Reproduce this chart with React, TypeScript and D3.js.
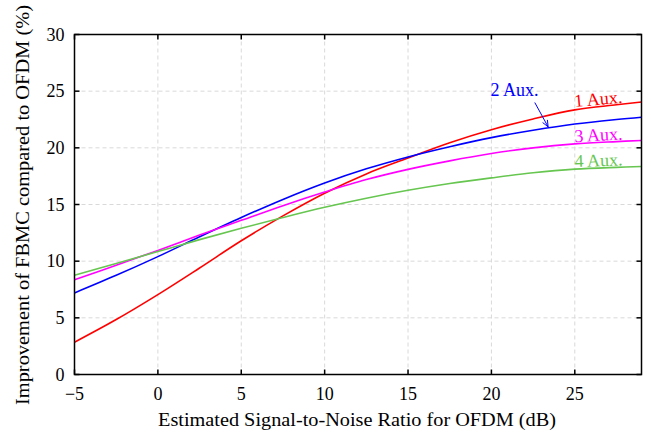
import { useEffect, useRef } from "react";
import * as d3 from "d3";

// SNR grid (dB) and the four curves
const snr = [-5, -2.5, 0, 2.5, 5, 7.5, 10, 12.5, 15, 17.5, 20, 22.5, 25, 27.5, 29];
const aux1 = [2.85, 4.85, 7.05, 9.4, 11.8, 14.0, 16.0, 17.7, 19.1, 20.45, 21.6, 22.55, 23.35, 23.8, 24.05];
const aux2 = [7.2, 8.75, 10.4, 12.15, 13.85, 15.45, 16.9, 18.15, 19.2, 20.1, 20.9, 21.55, 22.1, 22.5, 22.7];
const aux3 = [8.35, 9.65, 10.95, 12.3, 13.6, 14.9, 16.1, 17.2, 18.1, 18.85, 19.5, 20.0, 20.35, 20.55, 20.65];
const aux4 = [8.75, 9.8, 10.85, 11.9, 12.9, 13.85, 14.75, 15.55, 16.25, 16.85, 17.35, 17.8, 18.12, 18.28, 18.35];

const seriesNames = ["1 Aux.", "2 Aux.", "3 Aux.", "4 Aux."];
const seriesColors = ["#ff0000", "#0000ff", "#ff00ff", "#66c650"];

const xTicks = [-5, 0, 5, 10, 15, 20, 25];
const yTicks = [0, 5, 10, 15, 20, 25, 30];

export default function App() {
  const ref = useRef<SVGSVGElement>(null);

  useEffect(() => {
    const svg = d3.select(ref.current);
    const width = 651;
    const height = 432;
    const m = { left: 74.5, top: 34.5, right: 9.5, bottom: 57.5 };
    svg.selectAll("*").remove();
    svg.attr("width", width).attr("height", height).style("font-family", "'Liberation Serif', serif");

    const x = d3.scaleLinear().domain([-5, 29]).range([m.left, width - m.right]);
    const y = d3.scaleLinear().domain([0, 30]).range([height - m.bottom, m.top]);

    // grid
    const grid = svg.append("g").attr("stroke", "#d9d9d9").attr("stroke-dasharray", "4,3").attr("stroke-width", 1);
    xTicks.slice(1).forEach((t) => {
      grid.append("line").attr("x1", x(t)).attr("x2", x(t)).attr("y1", y(0)).attr("y2", y(30));
    });
    yTicks.slice(1, -1).forEach((t) => {
      grid.append("line").attr("x1", x(-5)).attr("x2", x(29)).attr("y1", y(t)).attr("y2", y(t));
    });

    // curves
    const all = [aux1, aux2, aux3, aux4];
    const line = d3
      .line<number>()
      .x((_, i) => x(snr[i]))
      .y((d) => y(d))
      .curve(d3.curveCatmullRom);
    all.forEach((vals, k) => {
      svg
        .append("path")
        .attr("d", line(vals))
        .attr("fill", "none")
        .attr("stroke", seriesColors[k])
        .attr("stroke-width", 1.6);
    });

    // frame + inward ticks
    const ax = svg.append("g").attr("stroke", "#000").attr("stroke-width", 1.5);
    ax.append("rect")
      .attr("x", x(-5))
      .attr("y", y(30))
      .attr("width", x(29) - x(-5))
      .attr("height", y(0) - y(30))
      .attr("fill", "none");
    const tl = 5;
    xTicks.forEach((t) => {
      ax.append("line").attr("x1", x(t)).attr("x2", x(t)).attr("y1", y(0)).attr("y2", y(0) - tl);
      ax.append("line").attr("x1", x(t)).attr("x2", x(t)).attr("y1", y(30)).attr("y2", y(30) + tl);
    });
    yTicks.forEach((t) => {
      ax.append("line").attr("x1", x(-5)).attr("x2", x(-5) + tl).attr("y1", y(t)).attr("y2", y(t));
      ax.append("line").attr("x1", x(29)).attr("x2", x(29) - tl).attr("y1", y(t)).attr("y2", y(t));
    });

    // tick labels
    const lab = svg.append("g").style("font-size", "18px").attr("fill", "#000");
    xTicks.forEach((t) => {
      lab.append("text")
        .attr("x", x(t))
        .attr("y", y(0) + 25)
        .attr("text-anchor", "middle")
        .text(t < 0 ? `\u2212${Math.abs(t)}` : `${t}`);
    });
    yTicks.forEach((t) => {
      lab.append("text")
        .attr("x", x(-5) - 10)
        .attr("y", y(t) + 6)
        .attr("text-anchor", "end")
        .text(`${t}`);
    });

    // axis titles
    svg.append("text")
      .attr("x", 158)
      .attr("y", 425.5)
      .attr("textLength", 398)
      .attr("lengthAdjust", "spacingAndGlyphs")
      .style("font-size", "18px")
      .text("Estimated Signal-to-Noise Ratio for OFDM (dB)");
    svg.append("text")
      .attr("transform", `translate(29, 405) rotate(-90)`)
      .attr("textLength", 400)
      .attr("lengthAdjust", "spacingAndGlyphs")
      .style("font-size", "18px")
      .text("Improvement of FBMC compared to OFDM (%)");

    // curve labels
    const labelPos = [
      { sx: 25.0, sy: 23.6, rot: -5 },
      { sx: 19.95, sy: 24.6, rot: 0 },
      { sx: 25.0, sy: 20.5, rot: -3 },
      { sx: 25.0, sy: 18.3, rot: -2 },
    ];
    labelPos.forEach((p, k) => {
      svg.append("text")
        .attr("transform", `translate(${x(p.sx)}, ${y(p.sy)}) rotate(${p.rot})`)
        .style("font-size", "18px")
        .attr("fill", seriesColors[k])
        .text(seriesNames[k]);
    });

    // arrow for 2 Aux.
    const ax1 = x(22.6), ay1 = y(24.0), ax2 = x(23.4), ay2 = y(21.85);
    svg.append("line")
      .attr("x1", ax1).attr("y1", ay1).attr("x2", ax2).attr("y2", ay2)
      .attr("stroke", "#0000ff").attr("stroke-width", 1);
    const ang = Math.atan2(ay2 - ay1, ax2 - ax1);
    const hl = 7, hw = 0.4;
    svg.append("path")
      .attr("d", `M${ax2 - hl * Math.cos(ang - hw)},${ay2 - hl * Math.sin(ang - hw)}L${ax2},${ay2}L${ax2 - hl * Math.cos(ang + hw)},${ay2 - hl * Math.sin(ang + hw)}`)
      .attr("fill", "none")
      .attr("stroke", "#0000ff")
      .attr("stroke-width", 1);
  }, []);

  return <svg ref={ref} style={{ position: "absolute", left: 0, top: 0, background: "#fff" }} />;
}
